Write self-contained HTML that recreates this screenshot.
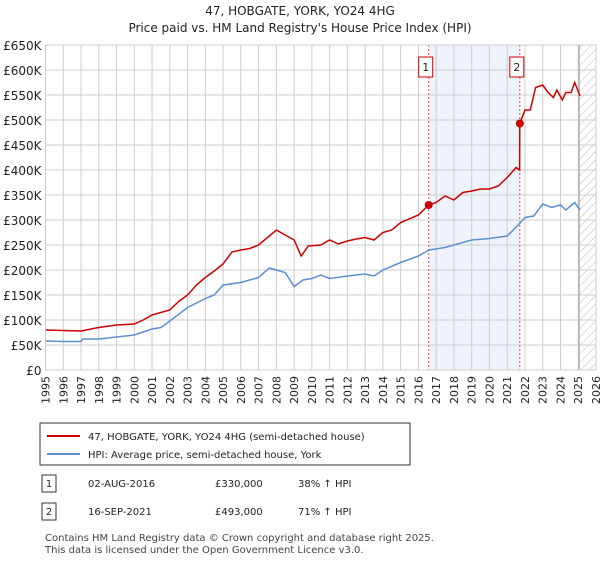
<!DOCTYPE html>
<html><head><meta charset="utf-8"><style>
body{margin:0;background:#fff;font-family:"Liberation Sans","DejaVu Sans",sans-serif;}
svg text{font-family:"DejaVu Sans","Liberation Sans",sans-serif;}
</style></head><body>
<svg width="600" height="560" xmlns="http://www.w3.org/2000/svg">
<defs><pattern id="hatch" width="6" height="6" patternUnits="userSpaceOnUse" patternTransform="rotate(45)"><line x1="0" y1="0" x2="0" y2="6" stroke="#bbb" stroke-width="1"/></pattern></defs>
<text x="300" y="15" text-anchor="middle" font-size="12" fill="#222">47, HOBGATE, YORK, YO24 4HG</text>
<text x="300" y="32" text-anchor="middle" font-size="12" fill="#222">Price paid vs. HM Land Registry's House Price Index (HPI)</text>
<g id="plot"></g>
<g>
<rect x="40" y="423" width="370" height="42" fill="#fff" stroke="#333"/>
<line x1="47" y1="436" x2="80" y2="436" stroke="#cc0000" stroke-width="2"/>
<text x="88" y="440" font-size="10" fill="#222">47, HOBGATE, YORK, YO24 4HG (semi-detached house)</text>
<line x1="47" y1="454" x2="80" y2="454" stroke="#5b8fd0" stroke-width="2"/>
<text x="88" y="458" font-size="10" fill="#222">HPI: Average price, semi-detached house, York</text>
</g>
<g font-size="10" fill="#222">
<rect x="42" y="475" width="14" height="17" fill="#fff" stroke="#333"/><text x="49" y="487" text-anchor="middle">1</text>
<text x="88" y="487">02-AUG-2016</text><text x="215" y="487">£330,000</text><text x="298" y="487">38% ↑ HPI</text>
<rect x="42" y="503" width="14" height="17" fill="#fff" stroke="#333"/><text x="49" y="515" text-anchor="middle">2</text>
<text x="88" y="515">16-SEP-2021</text><text x="215" y="515">£493,000</text><text x="298" y="515">71% ↑ HPI</text>
</g>
<text x="45" y="541" font-size="10" fill="#444">Contains HM Land Registry data © Crown copyright and database right 2025.</text>
<text x="45" y="553" font-size="10" fill="#444">This data is licensed under the Open Government Licence v3.0.</text>
</svg>
<script>
const yTicks=[0,50,100,150,200,250,300,350,400,450,500,550,600,650];
const xTicks=[1995,1996,1997,1998,1999,2000,2001,2002,2003,2004,2005,2006,2007,2008,2009,2010,2011,2012,2013,2014,2015,2016,2017,2018,2019,2020,2021,2022,2023,2024,2025,2026];
const hpiT=[1995,1996,1997,1997.1,1998,1999,2000,2001,2001.5,2002,2003,2004,2004.5,2005,2006,2007,2007.6,2008.5,2009,2009.5,2010,2010.5,2011,2012,2013,2013.5,2014,2015,2016,2016.6,2017.5,2018,2019,2020,2021,2021.7,2022,2022.5,2023,2023.5,2024,2024.3,2024.8,2025.1];
const hpiV=[58,57,57,62,62,66,70,82,85,98,125,143,150,170,175,185,204,195,167,180,183,190,183,188,192,188,200,215,228,240,245,250,260,263,268,293,305,308,332,325,330,320,335,320];
const priceT=[1995,1997,1998,1999,2000,2000.5,2001,2002,2002.5,2003,2003.5,2004,2004.5,2005,2005.5,2006,2006.5,2007,2007.5,2008,2008.5,2009,2009.4,2009.8,2010.5,2011,2011.5,2012,2012.5,2013,2013.5,2014,2014.5,2015,2016,2016.58,2017,2017.5,2018,2018.5,2019,2019.5,2020,2020.5,2021,2021.5,2021.7,2021.71,2022,2022.3,2022.6,2023,2023.3,2023.6,2023.8,2024.1,2024.3,2024.6,2024.8,2025.1];
const priceV=[80,78,85,90,92,100,110,120,137,150,170,185,198,212,236,240,243,250,265,280,270,260,228,248,250,260,252,258,262,265,260,275,280,295,310,330,335,348,340,355,358,362,362,368,385,405,400,493,520,520,565,570,555,545,560,540,555,555,575,548];
const saleT=[2016.58,2021.71];
const saleV=[330,493];
const saleLabels=["1","2"];
const X0=45.5,X1=596,Y0=370,YT=45;
const xs=t=>X0+(t-1995)*(X1-X0)/31;
const ys=v=>Y0-v*(Y0-YT)/650;
const NS="http://www.w3.org/2000/svg";
const g=document.getElementById('plot');
function mk(tag,attrs){const e=document.createElementNS(NS,tag);for(const k in attrs)e.setAttribute(k,attrs[k]);g.appendChild(e);return e;}
let e;
e=mk('rect',{x:xs(saleT[0]),y:YT,width:xs(saleT[1])-xs(saleT[0]),height:Y0-YT,fill:'#eef3fc'});


e=mk('rect',{x:xs(2025.05),y:YT,width:X1-xs(2025.05),height:Y0-YT,fill:'url(#hatch)'});


yTicks.forEach(v=>{
 e=mk('line',{x1:X0,x2:X1,y1:ys(v),y2:ys(v),stroke:'#ccc','stroke-width':1});
 
 
 e=mk('text',{x:X0-4,y:ys(v)+5,'text-anchor':'end','font-size':12,fill:'#222'});
 e.textContent=v===0?'£0':'£'+v+'K';
 
 
});
xTicks.forEach(t=>{
 e=mk('line',{x1:xs(t),x2:xs(t),y1:YT,y2:Y0,stroke:'#ccc','stroke-width':1});
 
 
 e=mk('text',{x:0,y:0,'text-anchor':'end','font-size':11,fill:'#222',transform:'translate('+(xs(t)+4)+','+(Y0+6)+') rotate(-90)'});
 e.textContent=t;
 
 
});
e=mk('line',{x1:xs(2025.05),x2:xs(2025.05),y1:YT,y2:Y0,stroke:'#999','stroke-width':1});


saleT.forEach((t,i)=>{
 e=mk('line',{x1:xs(t),x2:xs(t),y1:YT,y2:Y0,stroke:'#e05050','stroke-width':1,'stroke-dasharray':'2,2'});
 
 
 e=mk('rect',{x:xs(t)-10,y:57,width:14,height:20,fill:'#fff',stroke:'#cc0000'});
 
 
 e=mk('text',{x:xs(t)-3,y:71,'text-anchor':'middle','font-size':11,fill:'#222'});
 e.textContent=saleLabels[i];
 
 
});
function pts(T,V){return T.map((t,i)=>xs(t).toFixed(1)+','+ys(V[i]).toFixed(1)).join(' ');}
e=mk('polyline',{points:pts(hpiT,hpiV),fill:'none',stroke:'#5b8fd0','stroke-width':1.5});


e=mk('polyline',{points:pts(priceT,priceV),fill:'none',stroke:'#cc0000','stroke-width':1.5});


saleT.forEach((t,i)=>{
 e=mk('circle',{cx:xs(t),cy:ys(saleV[i]),r:4,fill:'#cc0000'});
 
 
});
e=mk('rect',{x:X0,y:YT,width:X1-X0,height:Y0-YT,fill:'none',stroke:'#ccc'});


</script>
</body></html>
